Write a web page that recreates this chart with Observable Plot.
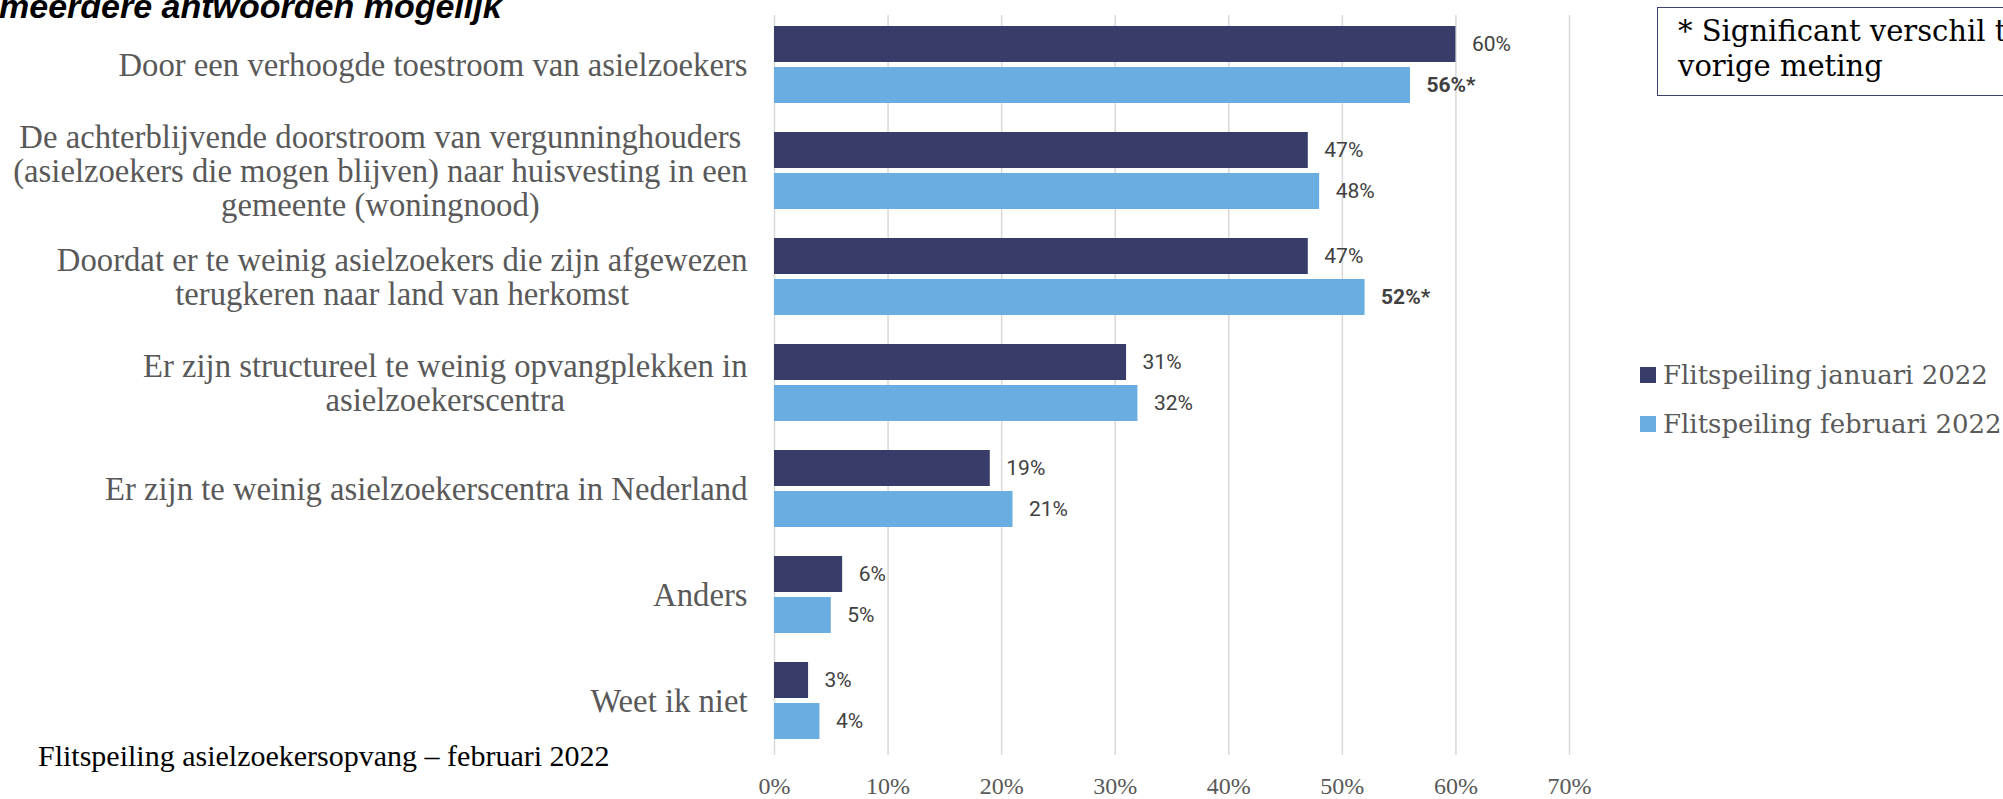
<!DOCTYPE html>
<html>
<head>
<meta charset="utf-8">
<script src="https://cdn.jsdelivr.net/npm/d3@7"></script>
<script src="https://cdn.jsdelivr.net/npm/@observablehq/plot@0.6"></script>
<style>
  html, body { margin: 0; padding: 0; background: #fff; }
  #wrap { position: relative; width: 2003px; height: 799px; overflow: hidden; }
  #chart { position: absolute; left: 0; top: 0; }
  #title { position: absolute; left: -1px; top: -11px; font-family: "Liberation Sans", Arial, sans-serif; font-weight: bold; font-style: italic; font-size: 34px; line-height: 34px; color: #000; white-space: nowrap; }
  #caption { position: absolute; left: 38px; top: 741px; font-family: "Liberation Serif", serif; font-size: 30px; line-height: 30px; color: #000; white-space: nowrap; }
  #note { position: absolute; left: 1657px; top: 7px; width: 420px; height: 89px; border: 1.5px solid #3e4270; box-sizing: border-box; padding: 6px 0 0 20px; font-family: "DejaVu Serif", serif; font-size: 29px; line-height: 35px; color: #000; white-space: nowrap; }
  #legend { position: absolute; left: 1640px; top: 360px; font-family: "DejaVu Serif", serif; font-size: 26px; color: #595959; }
  .item { display: flex; align-items: center; height: 30px; margin-bottom: 19px; white-space: nowrap; }
  .sw { width: 16px; height: 16px; margin-right: 7px; flex: none; }
</style>
</head>
<body>
<div id="wrap">
  <div id="chart"></div>
  <div id="title">meerdere antwoorden mogelijk</div>
  <div id="caption">Flitspeiling asielzoekersopvang – februari 2022</div>
  <div id="note">* Significant verschil ten opzichte van<br>vorige meting</div>
  <div id="legend"></div>
</div>
<script>
// ---- data ----
const categories = [
  "Door een verhoogde toestroom van asielzoekers",
  "De achterblijvende doorstroom van vergunninghouders (asielzoekers die mogen blijven) naar huisvesting in een gemeente (woningnood)",
  "Doordat er te weinig asielzoekers die zijn afgewezen terugkeren naar land van herkomst",
  "Er zijn structureel te weinig opvangplekken in asielzoekerscentra",
  "Er zijn te weinig asielzoekerscentra in Nederland",
  "Anders",
  "Weet ik niet"
];
const categoryLines = [
  ["Door een verhoogde toestroom van asielzoekers"],
  ["De achterblijvende doorstroom van vergunninghouders", "(asielzoekers die mogen blijven) naar huisvesting in een", "gemeente (woningnood)"],
  ["Doordat er te weinig asielzoekers die zijn afgewezen", "terugkeren naar land van herkomst"],
  ["Er zijn structureel te weinig opvangplekken in", "asielzoekerscentra"],
  ["Er zijn te weinig asielzoekerscentra in Nederland"],
  ["Anders"],
  ["Weet ik niet"]
];
const seriesNames = ["Flitspeiling januari 2022", "Flitspeiling februari 2022"];
const janValues = [60, 47, 47, 31, 19, 6, 3];
const febValues = [56, 48, 52, 32, 21, 5, 4];
const febSignificant = [true, false, true, false, false, false, false];
const xTicks = [0, 10, 20, 30, 40, 50, 60, 70];
const seriesColors = ["#383c69", "#6aade0"];

const rows = categories.map((c, i) => ({
  cat: c,
  label: categoryLines[i].join("\n"),
  lines: categoryLines[i],
  jan: janValues[i],
  feb: febValues[i],
  sig: febSignificant[i]
}));

// measure label widths so multi-line labels are centred within a right-aligned block
const ctx = document.createElement("canvas").getContext("2d");
const labelFont = 32.7;
ctx.font = labelFont + "px 'Liberation Serif'";
const labelMarks = rows.map(r => {
  const w = Math.max(...r.lines.map(l => ctx.measureText(l).width));
  return Plot.text([r], {
    y: "cat", text: "label", frameAnchor: "left", textAnchor: "middle",
    dx: -27 - w / 2, lineHeight: 34 / labelFont,
    fontSize: labelFont, fontFamily: "Liberation Serif", fill: "#595959"
  });
});

const valueStyle = {textAnchor: "start", dx: 16, fill: "#404040", fontFamily: "Roboto", fontSize: 21};

const axisMarks = typeof Plot.axisX === "function"
  ? [Plot.axisX(xTicks, {tickFormat: d => d + "%", tickSize: 0, tickPadding: 21, fontSize: 24, fontFamily: "Liberation Serif", fill: "#595959", label: null})]
  : [];

const chart = Plot.plot({
  width: 2003,
  height: 799,
  marginLeft: 774,
  marginRight: 434,
  marginTop: 15,
  marginBottom: 44,
  style: {fontFamily: "Liberation Serif", fontSize: "24px", color: "#595959", background: "transparent"},
  x: {domain: [0, 70], ticks: xTicks, tickFormat: d => d + "%", tickSize: 0, tickPadding: 21, label: null, axis: axisMarks.length ? null : "bottom"},
  y: {domain: categories, range: [9, 755], paddingInner: 0.277, paddingOuter: 0.1385, axis: null},
  marks: [
    Plot.ruleX(xTicks, {stroke: "#d9d9d9", strokeWidth: 1.5}),
    Plot.barX(rows, {x: "jan", y: "cat", fill: seriesColors[0], insetBottom: 41}),
    Plot.barX(rows, {x: "feb", y: "cat", fill: seriesColors[1], insetTop: 41}),
    Plot.text(rows, {x: "jan", y: "cat", text: d => d.jan + "%", dy: -20.5, ...valueStyle}),
    Plot.text(rows.filter(d => !d.sig), {x: "feb", y: "cat", text: d => d.feb + "%", dy: 20.5, ...valueStyle}),
    Plot.text(rows.filter(d => d.sig), {x: "feb", y: "cat", text: d => d.feb + "%*", dy: 20.5, ...valueStyle, fontWeight: "bold"}),
    ...axisMarks,
    ...labelMarks
  ]
});
document.getElementById("chart").appendChild(chart);

const legend = document.getElementById("legend");
seriesNames.forEach((name, i) => {
  const item = document.createElement("div");
  item.className = "item";
  const sw = document.createElement("span");
  sw.className = "sw";
  sw.style.background = seriesColors[i];
  const t = document.createElement("span");
  t.textContent = name;
  item.appendChild(sw);
  item.appendChild(t);
  legend.appendChild(item);
});
</script>
</body>
</html>
